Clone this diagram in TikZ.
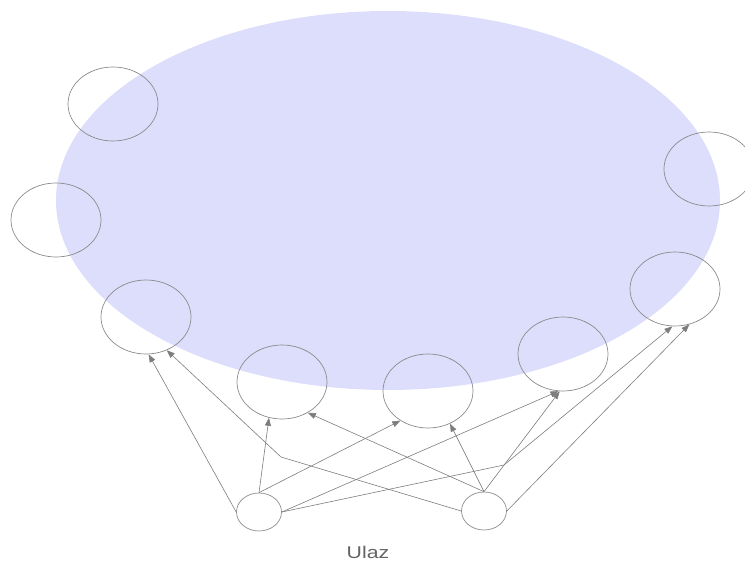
\documentclass[tikz,border=0pt]{standalone}
\usepackage{fontspec}
\setmainfont{Liberation Sans}
\usetikzlibrary{arrows.meta,shapes.geometric}
\definecolor{lav}{RGB}{221,221,252}
\definecolor{ln}{RGB}{140,140,140}
\definecolor{ar}{RGB}{125,125,125}
\definecolor{tx}{RGB}{100,100,100}
\begin{document}
\begin{tikzpicture}[x=1pt,y=-1pt,
  bigell/.style={ellipse, fill=lav, draw=none, minimum width=664pt, minimum height=379pt, inner sep=0pt},
  neuron/.style={ellipse, draw=ln, line width=0.7pt, minimum width=90pt, minimum height=74pt, inner sep=0pt},
  inneuron/.style={ellipse, draw=ln, line width=0.7pt, minimum width=45pt, minimum height=38pt, inner sep=0pt},
  conn/.style={draw=ar, line width=0.6pt, -{Triangle[length=8pt,width=6pt]}},
  lbl/.style={font=\fontsize{17}{20}\selectfont, text=tx, anchor=base, inner sep=0pt}]
\useasboundingbox (0,0) rectangle (745,561);
\clip (0,0) rectangle (745,561);
\node[bigell] (S) at (388,200.5) {};
\node[neuron] (A) at (113,104) {};
\node[neuron] (B) at (56,220) {};
\node[neuron] (C) at (146,317) {};
\node[neuron] (D) at (282,382) {};
\node[neuron] (E) at (428,391) {};
\node[neuron] (F) at (563,354) {};
\node[neuron] (G) at (675,289) {};
\node[neuron] (H) at (709,169) {};
\node[inneuron] (I1) at (259,512) {};
\node[inneuron] (I2) at (484,511) {};
\coordinate (g1) at (504,465);
\coordinate (c1) at (281,457);
\draw[conn] (I1.west) -- (C.-86);
\draw[conn] (I1.north) -- (D.-110);
\draw[conn] (I1.north) -- (E.-133);
\draw[conn] (I1.east) -- (F.-97);
\draw[conn] (I1.east) -- (g1) -- (G.-94);
\draw[conn] (I2.west) -- (c1) -- (C.-58);
\draw[conn] (I2.north) -- (D.-50);
\draw[conn] (I2.north) -- (E.-56);
\draw[conn] (I2.north) -- (F.-95);
\draw[conn] (I2.east) -- (G.-68);
\node[lbl] (L) at (368,558) {\scalebox{1.25}[1]{Ulaz}};
\end{tikzpicture}
\end{document}
